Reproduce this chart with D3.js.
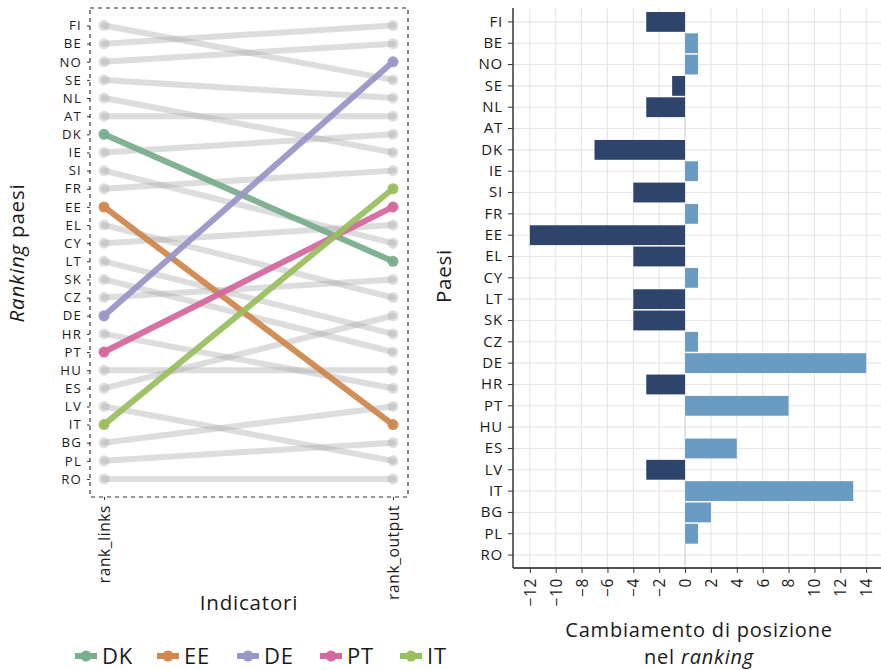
<!DOCTYPE html>
<html>
<head>
<meta charset="utf-8">
<script src="https://cdn.jsdelivr.net/npm/d3@7"></script>
<style>
  body { margin: 0; background: #fff; }
  svg text { font-family: "Open Sans", sans-serif; fill: #1a1a1a; }
</style>
</head>
<body>
<div id="chart"></div>
<script>
// countries ordered by rank_links (1 = top)
const countries = ["FI","BE","NO","SE","NL","AT","DK","IE","SI","FR","EE","EL","CY",
                   "LT","SK","CZ","DE","HR","PT","HU","ES","LV","IT","BG","PL","RO"];
const rankLinks  = [1,2,3,4,5,6,7,8,9,10,11,12,13,14,15,16,17,18,19,20,21,22,23,24,25,26];
const rankOutput = [4,1,2,5,8,6,14,7,13,9,23,16,12,18,19,15,3,21,11,20,17,25,10,22,24,26];
const indicators = ["rank_links", "rank_output"];
const highlighted = ["DK","EE","DE","PT","IT"];
const highlightColors = ["#7aae8e","#d0884f","#9a97c9","#d5699f","#9bbf60"];
const changeTicks = [-12,-10,-8,-6,-4,-2,0,2,4,6,8,10,12,14];

const width = 881, height = 670;
const svg = d3.select("#chart").append("svg")
    .attr("width", width).attr("height", height);

const color = d3.scaleOrdinal().domain(highlighted).range(highlightColors);

function tickStyle(sel, size, spacing) {
    sel.attr("font-size", size).attr("fill", "#1a1a1a")
        .attr("letter-spacing", spacing)
        .style("font-family", "'Open Sans', sans-serif");
}

// ---------- left: slope chart ----------
const box = {x0: 90, x1: 408, y0: 8, y1: 497};
const xSlope = d3.scalePoint().domain(indicators).range([104, 393]);
const ySlope = d3.scaleLinear().domain([1, 26]).range([25.5, 479]);

const left = svg.append("g");

left.append("rect")
    .attr("x", box.x0).attr("y", box.y0)
    .attr("width", box.x1 - box.x0).attr("height", box.y1 - box.y0)
    .attr("fill", "none").attr("stroke", "#333").attr("stroke-width", 1.2)
    .attr("stroke-dasharray", "4,4");

const yAxisL = left.append("g")
    .attr("transform", "translate(" + box.x0 + ",0)")
    .call(d3.axisLeft(ySlope).tickValues(rankLinks)
        .tickFormat((d, i) => countries[i]).tickSize(3).tickPadding(5));
yAxisL.select(".domain").remove();
yAxisL.selectAll("line").attr("stroke", "#333");
tickStyle(yAxisL.selectAll("text"), 13.2, 1.2);

const xAxisL = left.append("g")
    .attr("transform", "translate(0," + box.y1 + ")")
    .call(d3.axisBottom(xSlope).tickSize(3).tickPadding(4));
xAxisL.select(".domain").remove();
xAxisL.selectAll("line").attr("stroke", "#333");
tickStyle(xAxisL.selectAll("text"), 15.5, 0.6);
xAxisL.selectAll("text")
    .attr("transform", "rotate(-90)")
    .attr("text-anchor", "end")
    .attr("dy", "0.35em").attr("x", -8).attr("y", 0);

const rows = countries.map((c, i) => ({country: c, links: rankLinks[i], output: rankOutput[i]}));
const greyRows = rows.filter(d => !highlighted.includes(d.country));
const colRows = highlighted.map(c => rows.find(d => d.country === c));

function drawSlope(g, data, strokeFn, opacity) {
    g.selectAll("line.slope")
        .data(data).enter().append("line")
        .attr("class", "slope")
        .attr("x1", xSlope("rank_links")).attr("y1", d => ySlope(d.links))
        .attr("x2", xSlope("rank_output")).attr("y2", d => ySlope(d.output))
        .attr("stroke", strokeFn).attr("stroke-width", 6)
        .attr("stroke-linecap", "round")
        .attr("opacity", opacity);
    const pts = [];
    data.forEach(d => {
        pts.push({c: d.country, x: xSlope("rank_links"), y: ySlope(d.links)});
        pts.push({c: d.country, x: xSlope("rank_output"), y: ySlope(d.output)});
    });
    g.selectAll("circle.pt")
        .data(pts).enter().append("circle")
        .attr("class", "pt")
        .attr("cx", d => d.x).attr("cy", d => d.y).attr("r", 5.5)
        .attr("fill", d => strokeFn({country: d.c}))
        .attr("opacity", opacity);
}

const greyG = left.append("g");
drawSlope(greyG, greyRows, () => "#a8a8a8", 0.38);
const colG = left.append("g");
drawSlope(colG, colRows, d => color(d.country), 0.95);

left.append("text")
    .attr("transform", "translate(24,253) rotate(-90)")
    .attr("text-anchor", "middle").attr("font-size", 20.5).attr("letter-spacing", 0.8)
    .html('<tspan font-style="italic">Ranking</tspan> paesi');

left.append("text")
    .attr("x", 249).attr("y", 610)
    .attr("text-anchor", "middle").attr("font-size", 20.5).attr("letter-spacing", 0.8)
    .text("Indicatori");

// legend
const legendX = [75, 157, 237, 320, 400];
const legend = svg.append("g").selectAll("g")
    .data(highlighted).enter().append("g")
    .attr("transform", (d, i) => "translate(" + legendX[i] + ",656)");
legend.append("line")
    .attr("x1", 0).attr("x2", 22).attr("y1", 0).attr("y2", 0)
    .attr("stroke", d => color(d)).attr("stroke-width", 6);
legend.append("circle")
    .attr("cx", 11).attr("cy", 0).attr("r", 5.5)
    .attr("fill", d => color(d));
legend.append("text")
    .attr("x", 27).attr("y", 0).attr("dy", "0.36em")
    .attr("font-size", 22).attr("letter-spacing", 0.8)
    .text(d => d);

// ---------- right: bar chart of position change ----------
const changes = rows.map(d => ({country: d.country, change: d.links - d.output}));

const panel = {x0: 513, x1: 883, y0: 8, y1: 568};
const xBar = d3.scaleLinear().domain([-13.3, 15.3]).range([panel.x0, panel.x1]);
const yBar = d3.scaleBand().domain(countries).range([panel.y0 + 2.5, panel.y1 - 1.5]).padding(0.07);

const right = svg.append("g");

right.append("g").selectAll("line")
    .data(changeTicks).enter().append("line")
    .attr("x1", d => xBar(d)).attr("x2", d => xBar(d))
    .attr("y1", panel.y0).attr("y2", panel.y1)
    .attr("stroke", "#e6e6e6").attr("stroke-width", 1.1);
right.append("g").selectAll("line")
    .data(countries).enter().append("line")
    .attr("x1", panel.x0).attr("x2", width)
    .attr("y1", d => yBar(d) + yBar.bandwidth() / 2)
    .attr("y2", d => yBar(d) + yBar.bandwidth() / 2)
    .attr("stroke", "#e6e6e6").attr("stroke-width", 1.1);

right.selectAll("rect.bar")
    .data(changes).enter().append("rect")
    .attr("class", "bar")
    .attr("x", d => d.change === 0 ? xBar(0) - 0.5 : xBar(Math.min(0, d.change)))
    .attr("y", d => yBar(d.country))
    .attr("width", d => d.change === 0 ? 1 : Math.abs(xBar(d.change) - xBar(0)))
    .attr("height", yBar.bandwidth())
    .attr("fill", d => d.change < 0 ? "#2f446b" : (d.change > 0 ? "#6a9bc3" : "#c7d3e3"));

const yAxisR = right.append("g")
    .attr("transform", "translate(" + panel.x0 + ",0)")
    .call(d3.axisLeft(yBar).tickSize(5).tickPadding(5).tickSizeOuter(0));
yAxisR.select(".domain").attr("stroke", "#1a1a1a").attr("stroke-width", 1.3)
    .attr("d", "M0," + panel.y0 + "V" + panel.y1);
yAxisR.selectAll("line").attr("stroke", "#333");
tickStyle(yAxisR.selectAll("text"), 15, 0.8);

const xAxisR = right.append("g")
    .attr("transform", "translate(0," + panel.y1 + ")")
    .call(d3.axisBottom(xBar).tickValues(changeTicks)
        .tickFormat(d => d < 0 ? "\u2212" + Math.abs(d) : d)
        .tickSize(5).tickPadding(6).tickSizeOuter(0));
xAxisR.select(".domain").attr("stroke", "#1a1a1a").attr("stroke-width", 1.3)
    .attr("d", "M" + panel.x0 + ",0H" + width);
xAxisR.selectAll("line").attr("stroke", "#333");
tickStyle(xAxisR.selectAll("text"), 15.5, 0.6);
xAxisR.selectAll("text")
    .attr("transform", "rotate(-90)")
    .attr("text-anchor", "end")
    .attr("dy", "0.35em").attr("x", -10).attr("y", 0);

right.append("text")
    .attr("transform", "translate(451,276) rotate(-90)")
    .attr("text-anchor", "middle").attr("font-size", 20.5).attr("letter-spacing", 0.8)
    .text("Paesi");

right.append("text")
    .attr("x", 699).attr("y", 637)
    .attr("text-anchor", "middle").attr("font-size", 20).attr("letter-spacing", 0.8)
    .text("Cambiamento di posizione");
right.append("text")
    .attr("x", 699).attr("y", 664)
    .attr("text-anchor", "middle").attr("font-size", 20).attr("letter-spacing", 0.8)
    .html('nel <tspan font-style="italic">ranking</tspan>');
</script>
</body>
</html>
